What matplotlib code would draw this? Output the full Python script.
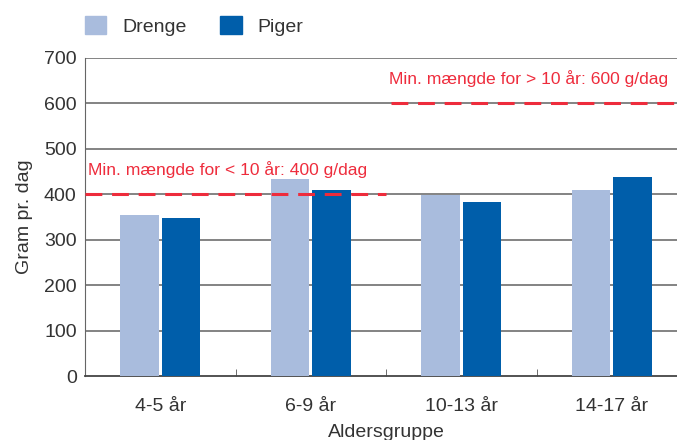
import numpy as np
import matplotlib.pyplot as plt
from matplotlib.patches import Patch

plt.rcParams['font.family'] = ['Liberation Sans', 'DejaVu Sans']

groups = ['4-5 år', '6-9 år', '10-13 år', '14-17 år']
drenge = [354, 434, 398, 409]
piger = [348, 409, 383, 438]
min_under10 = 400
min_over10 = 600

c_drenge = '#a9bcdd'
c_piger = '#005eaa'
c_red = '#ee2c3c'
c_txt = '#333333'
fs = 14

fig = plt.figure(figsize=(6.77, 4.40), dpi=100)
ax = fig.add_axes([85/677, 64/440, 602/677, 318/440])

x = np.arange(len(groups))
w = 0.255
ax.bar(x - 0.137, drenge, w, color=c_drenge, zorder=3)
ax.bar(x + 0.137, piger, w, color=c_piger, zorder=3)

ax.set_xlim(-0.5, 3.5)
ax.set_ylim(0, 700)
ax.set_yticks(range(0, 701, 100))
for v in range(100, 701, 100):
    ax.axhline(v, color='#7a7a7a', lw=1.3, zorder=1)

# minimum lines
ax.plot([-0.5, 1.5], [min_under10, min_under10], color=c_red, lw=2.2,
        dashes=(5.5, 3.2), zorder=4)
ax.plot([1.53, 3.5], [min_over10, min_over10], color=c_red, lw=2.2,
        dashes=(5.5, 3.2), zorder=4)
ax.text(-0.48, 435, 'Min. mængde for < 10 år: 400 g/dag', color=c_red,
        fontsize=12.6, va='bottom', ha='left')
ax.text(1.52, 637, 'Min. mængde for > 10 år: 600 g/dag', color=c_red,
        fontsize=12.6, va='bottom', ha='left')

ax.set_xticks(x)
ax.set_xticklabels(groups)
ax.set_xticks([0.5, 1.5, 2.5], minor=True)
ax.tick_params(axis='x', which='major', length=0, pad=16, labelsize=fs, labelcolor=c_txt)
ax.tick_params(axis='x', which='minor', direction='in', length=5, color='#555555')
ax.tick_params(axis='y', length=0, pad=6, labelsize=fs, labelcolor=c_txt)

for s in ['top', 'right']:
    ax.spines[s].set_visible(False)
ax.spines['left'].set_color('#666666')
ax.spines['bottom'].set_color('#444444')
ax.spines['bottom'].set_linewidth(1.3)

ax.set_xlabel('Aldersgruppe', fontsize=fs, color=c_txt, labelpad=6)
ax.set_ylabel('Gram pr. dag', fontsize=fs, color=c_txt, labelpad=8)

handles = [Patch(color=c_drenge, label='Drenge'), Patch(color=c_piger, label='Piger')]
ax.legend(handles=handles, loc='lower left', bbox_to_anchor=(0.0, 1.07),
          ncol=2, frameon=False, fontsize=fs, handlelength=1.1,
          handleheight=1.1, handletextpad=0.8, columnspacing=1.75,
          borderaxespad=0, borderpad=0, labelcolor=c_txt)

fig.savefig('out.png', dpi=100)
